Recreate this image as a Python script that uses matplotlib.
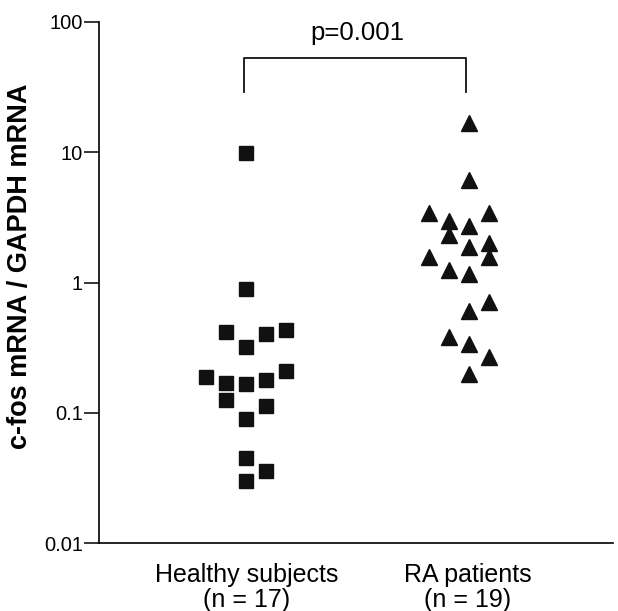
import matplotlib
matplotlib.use('Agg')
import matplotlib.pyplot as plt
import numpy as np

plt.rcParams['font.family'] = ['Liberation Sans', 'DejaVu Sans']

# values
healthy = [9.8, 0.9, 0.42, 0.40, 0.43, 0.32, 0.19, 0.17, 0.167, 0.18, 0.21,
           0.126, 0.113, 0.09, 0.045, 0.036, 0.030]
healthy_slot = [0, 0, -1, 1, 2, 0, -2, -1, 0, 1, 2, -1, 1, 0, 0, 1, 0]

ra = [16.7, 6.1, 3.4, 3.4, 2.95, 2.7, 2.3, 2.0, 1.86, 1.58, 1.58, 1.26, 1.17,
      0.71, 0.6, 0.38, 0.34, 0.27, 0.2]
ra_slot = [0, 0, -2, 1, -1, 0, -1, 1, 0, 1, -2, -1, 0, 1, 0, -1, 0, 1, 0]

groups = ['Healthy subjects\n(n = 17)', 'RA patients\n(n = 19)']
yticks = [0.01, 0.1, 1, 10, 100]
ytick_labels = ['0.01', '0.1', '1', '10', '100']
p_text = 'p=0.001'

fig = plt.figure(figsize=(6.18, 6.11), dpi=100)
ax = fig.add_axes([0.16, 0.111, 0.832, 0.853])

step = 0.09
ax.plot(1 + step * np.array(healthy_slot), healthy, 's', color='#111111',
        markersize=10, linestyle='none')
ax.plot(2 + step * np.array(ra_slot) + 0.005, ra, '^', color='#111111',
        markersize=11, linestyle='none')

ax.set_yscale('log')
ax.set_ylim(0.01, 100)
ax.set_xlim(0.335, 2.656)
ax.set_yticks(yticks)
ax.set_yticklabels(ytick_labels)
ax.yaxis.set_minor_locator(matplotlib.ticker.NullLocator())
ax.set_xticks([1, 2])
ax.set_xticklabels(groups, linespacing=1.05)
ax.tick_params(axis='x', length=0, labelsize=18, pad=14)
ax.tick_params(axis='y', length=10.5, width=1.1, labelsize=14.5, pad=1)

ax.spines['top'].set_visible(False)
ax.spines['right'].set_visible(False)
for s in ['left', 'bottom']:
    ax.spines[s].set_linewidth(1.2)

fig.text(0.0324, 0.564, 'c-fos mRNA / GAPDH mRNA', rotation=90,
         ha='center', va='center', fontsize=19.5, fontweight='bold')

# significance bracket
ax.plot([0.99, 0.99, 1.99, 1.99], [29, 52.7, 52.7, 29], color='#111111', linewidth=1.3)
ax.text(1.5, 72.7, p_text, ha='center', va='baseline', fontsize=18.5)

fig.savefig('out.png', dpi=100)
